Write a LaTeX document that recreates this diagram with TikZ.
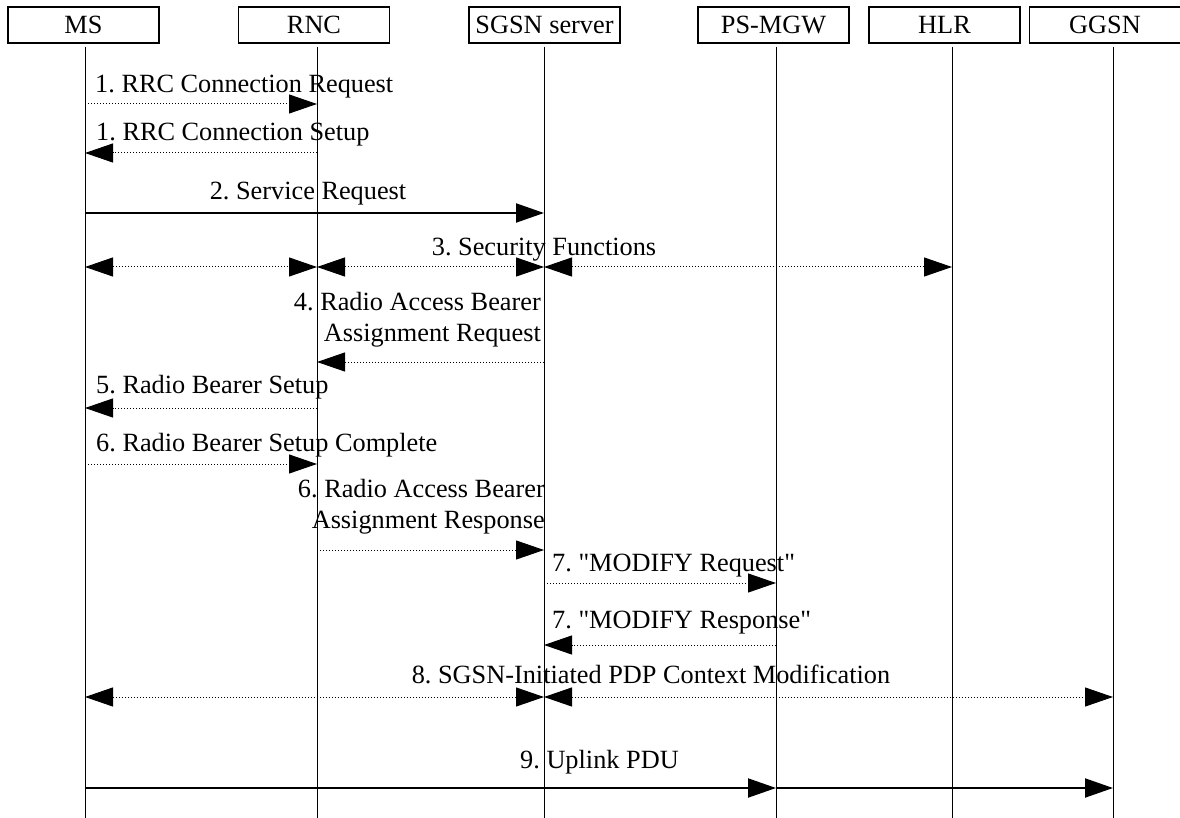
\documentclass[tikz,border=0pt]{standalone}
\usepackage{fontspec}
\setmainfont{Liberation Serif}
\usetikzlibrary{arrows.meta}
\frenchspacing
\begin{document}
\begin{tikzpicture}[x=1pt,y=-1pt,
  every node/.style={font=\fontsize{26.3pt}{31pt}\selectfont},
  entity/.style={draw, line width=1.7pt, minimum width=151pt, minimum height=36pt, inner sep=0pt},
  lifeline/.style={line width=1pt},
  Tri/.tip={Triangle[length=28pt,width=19pt]},
  dotmsg/.style={line width=1pt, dash pattern=on 1pt off 2pt},
  solmsg/.style={line width=2pt},
  lbl/.style={inner sep=0pt}
]
\useasboundingbox (0,0) rectangle (1180,818);

% entities
\node[entity] (MS)    at (83.5,25)  {MS};
\node[entity] (RNC)   at (314,25)   {RNC};
\node[entity] (SGSN)  at (544.5,25) {SGSN server};
\node[entity] (PSMGW) at (773.5,25) {PS-MGW};
\node[entity] (HLR)   at (944.5,25) {HLR};
\node[entity] (GGSN)  at (1105,25)  {GGSN};

% lifelines
\coordinate (ms)    at (85,47);   \coordinate (msb)    at (85,818);
\coordinate (rnc)   at (317,47);  \coordinate (rncb)   at (317,818);
\coordinate (sgsn)  at (544,47);  \coordinate (sgsnb)  at (544,818);
\coordinate (psmgw) at (776,47);  \coordinate (psmgwb) at (776,818);
\coordinate (hlr)   at (952,47);  \coordinate (hlrb)   at (952,818);
\coordinate (ggsn)  at (1113,47); \coordinate (ggsnb)  at (1113,818);
\foreach \a/\b in {ms/msb,rnc/rncb,sgsn/sgsnb,psmgw/psmgwb,hlr/hlrb,ggsn/ggsnb}
  \draw[lifeline] (\a) -- (\b);

% message rows
\coordinate (r1)  at (0,104);
\coordinate (r1b) at (0,153);
\coordinate (r2)  at (0,213);
\coordinate (r3)  at (0,267);
\coordinate (r4)  at (0,362);
\coordinate (r5)  at (0,408);
\coordinate (r6)  at (0,464);
\coordinate (r6b) at (0,550);
\coordinate (r7a) at (0,583);
\coordinate (r7b) at (0,645);
\coordinate (r8)  at (0,697);
\coordinate (r9)  at (0,788);

% labels
\node[lbl, anchor=base west] (t1)  at (95,93)   {1. RRC Connection Request};
\node[lbl, anchor=base west] (t1b) at (96,141)  {1. RRC Connection Setup};
\node[lbl, anchor=base]      (t2)  at (308,200) {2. Service Request};
\node[lbl, anchor=base]      (t3)  at (544,255) {3. Security Functions};
\node[lbl, anchor=base east, align=right] (t4) at (541,341) {4. Radio Access Bearer\\Assignment Request};
\node[lbl, anchor=base west] (t5)  at (96,393)  {5. Radio Bearer Setup};
\node[lbl, anchor=base west] (t6)  at (96,451)  {6. Radio Bearer Setup Complete};
\node[lbl, anchor=base east, align=right] (t6b) at (545,528) {6. Radio Access Bearer\\Assignment Response};
\node[lbl, anchor=base west] (t7a) at (552,571)  {7. \textquotedbl MODIFY Request\textquotedbl};
\node[lbl, anchor=base west] (t7b) at (552,628)  {7. \textquotedbl MODIFY Response\textquotedbl};
\node[lbl, anchor=base]      (t8)  at (651,683)  {8. SGSN-Initiated PDP Context Modification};
\node[lbl, anchor=base west] (t9)  at (520,768)  {9. Uplink PDU};

% messages
\draw[dotmsg,-{Tri}] (ms|-r1) -- (rnc|-r1);
\draw[dotmsg,-{Tri}] (rnc|-r1b) -- (ms|-r1b);
\draw[solmsg,-{Tri}] (ms|-r2) -- (sgsn|-r2);
\draw[dotmsg,{Tri}-{Tri}] (ms|-r3) -- (rnc|-r3);
\draw[dotmsg,{Tri}-{Tri}] (rnc|-r3) -- (sgsn|-r3);
\draw[dotmsg,{Tri}-{Tri}] (sgsn|-r3) -- (hlr|-r3);
\draw[dotmsg,-{Tri}] (sgsn|-r4) -- (rnc|-r4);
\draw[dotmsg,-{Tri}] (rnc|-r5) -- (ms|-r5);
\draw[dotmsg,-{Tri}] (ms|-r6) -- (rnc|-r6);
\draw[dotmsg,-{Tri}] (rnc|-r6b) -- (sgsn|-r6b);
\draw[dotmsg,-{Tri}] (sgsn|-r7a) -- (psmgw|-r7a);
\draw[dotmsg,-{Tri}] (psmgw|-r7b) -- (sgsn|-r7b);
\draw[dotmsg,{Tri}-{Tri}] (ms|-r8) -- (sgsn|-r8);
\draw[dotmsg,{Tri}-{Tri}] (sgsn|-r8) -- (ggsn|-r8);
\draw[solmsg,-{Tri}] (ms|-r9) -- (psmgw|-r9);
\draw[solmsg,-{Tri}] (psmgw|-r9) -- (ggsn|-r9);
\end{tikzpicture}
\end{document}
